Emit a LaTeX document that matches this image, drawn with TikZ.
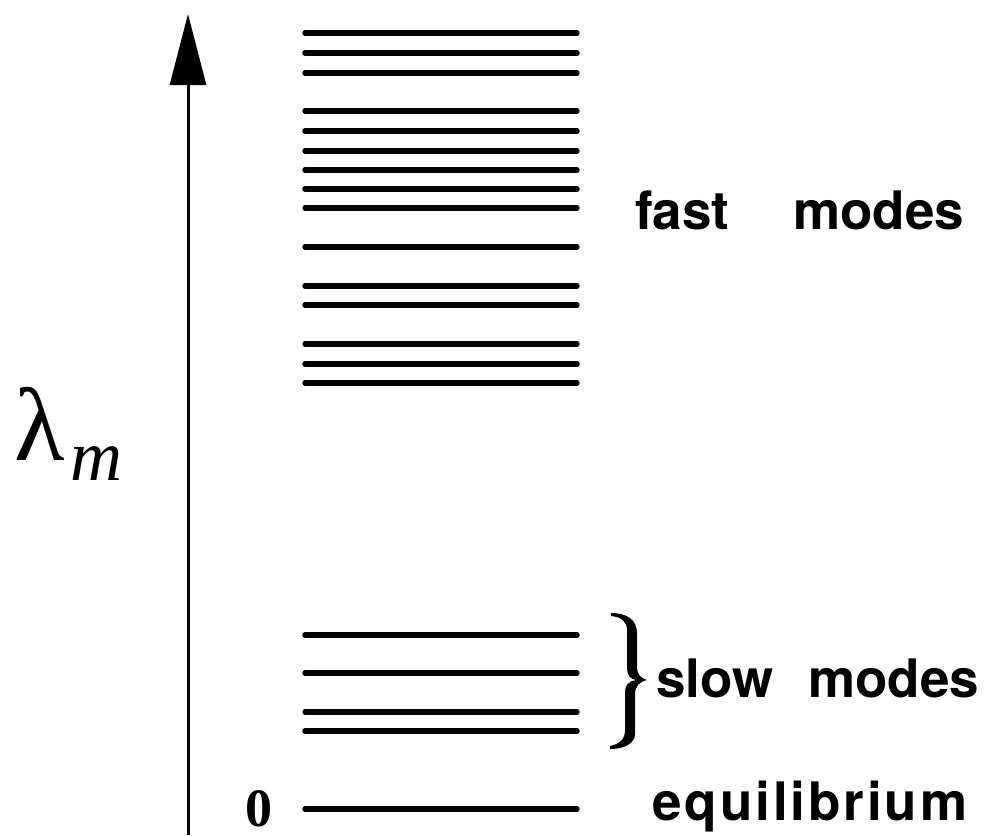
\documentclass[tikz,border=0pt]{standalone}
\usepackage{fontspec}
\setmainfont{Liberation Serif}
\newfontfamily\labelfont{TeX Gyre Heros}
\usetikzlibrary{arrows.meta}
\begin{document}
\begin{tikzpicture}[x=1pt,y=-1pt,
  levelline/.style={line width=5.4pt, line cap=round},
  modelabel/.style={inner sep=0pt, anchor=base west,
    font=\labelfont\bfseries\fontsize{53}{60}\selectfont},
  axisline/.style={line width=3pt, -{Triangle[length=71pt,width=36pt]}}]
  \useasboundingbox (0,0) rectangle (987,835);

  % eigenvalue axis
  \coordinate (axisbottom) at (188,835);
  \coordinate (axistop) at (188,14);
  \draw[axisline] (axisbottom) -- (axistop);

  % axis label
  \node[inner sep=0pt, anchor=base west] (lam) at (14,460)
    {\fontsize{104}{104}\selectfont λ};
  \node[inner sep=0pt, anchor=base west] (sub) at (70,480)
    {\fontsize{72}{72}\selectfont\itshape m};

  % relaxation spectrum
  \foreach \y in {33,53,73,111,131,151,170,189,208,247,286,305,344,364,383,
                  635,673,712,731,809}
    \draw[levelline] (305,\y) -- (577,\y);

  % zero eigenvalue
  \node[inner sep=0pt, anchor=base west] (zero) at (245,826)
    {\bfseries\fontsize{54}{54}\selectfont 0};

  % brace grouping the slow modes
  \fill (611,613) .. controls (627,613) and (637,620) .. (637,633)
    -- (637,666) .. controls (637,674) and (640,678) .. (647,680)
    .. controls (639,682) and (635,686) .. (635,695)
    -- (635,734) .. controls (635,743) and (625,749) .. (610,749)
    -- (610,746) .. controls (619,744) and (625,740) .. (625,730)
    -- (625,692) .. controls (625,685) and (629,681) .. (636,680)
    .. controls (630,679) and (627,675) .. (627,668)
    -- (627,630) .. controls (627,621) and (621,617) .. (611,616)
    -- cycle;

  % mode labels
  \node[modelabel] (fast) at (635,229) {fast\hspace{64pt}modes};
  \node[modelabel] (slow) at (656,697) {slow\hspace{35pt}modes};
  \node[modelabel] (equil) at (652,820)
    {\addfontfeature{LetterSpace=5.5}equilibrium};
\end{tikzpicture}
\end{document}
